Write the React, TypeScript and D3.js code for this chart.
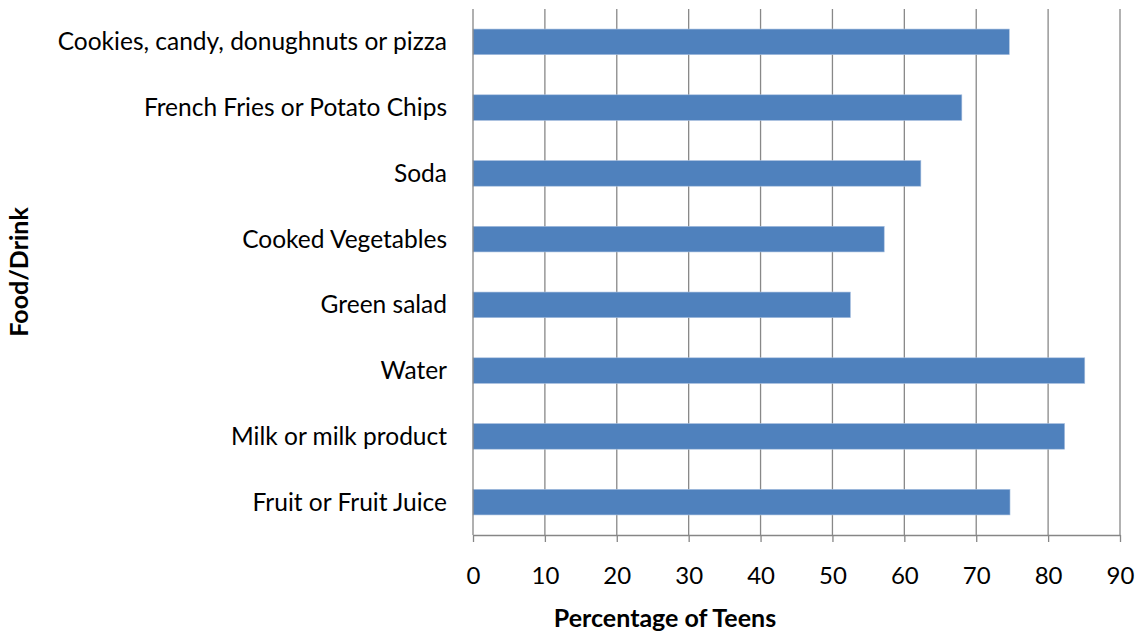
import React, { useEffect, useRef } from 'react';
import * as d3 from 'd3';

const categories = [
  'Cookies, candy, donughnuts or pizza',
  'French Fries or Potato Chips',
  'Soda',
  'Cooked Vegetables',
  'Green salad',
  'Water',
  'Milk or milk product',
  'Fruit or Fruit Juice',
];
const percentages = [74.6, 68.0, 62.3, 57.2, 52.5, 85.1, 82.3, 74.7];
const xTicks = [0, 10, 20, 30, 40, 50, 60, 70, 80, 90];

const WIDTH = 1139;
const HEIGHT = 632;
const FONT = 'Lato, "Open Sans", sans-serif';

export default function App() {
  const svgRef = useRef<SVGSVGElement>(null);

  useEffect(() => {
    if (!svgRef.current) return;
    const svg = d3.select(svgRef.current);
    svg.selectAll('*').remove();

    const margin = { top: 9, right: 19, bottom: 97, left: 473 };
    const plotW = WIDTH - margin.left - margin.right;
    const plotH = HEIGHT - margin.top - margin.bottom;

    const x = d3.scaleLinear().domain([0, 90]).range([margin.left, margin.left + plotW]);
    const y = d3.scaleBand()
      .domain(categories)
      .range([margin.top, margin.top + plotH])
      .paddingInner(0.61)
      .paddingOuter(0.305);

    // gridlines
    svg.append('g')
      .selectAll('line')
      .data(xTicks.slice(1))
      .join('line')
      .attr('x1', d => x(d))
      .attr('x2', d => x(d))
      .attr('y1', margin.top)
      .attr('y2', margin.top + plotH)
      .attr('stroke', '#888888')
      .attr('stroke-width', 1.3);

    // bars
    svg.append('g')
      .selectAll('rect')
      .data(categories)
      .join('rect')
      .attr('x', x(0))
      .attr('y', d => y(d) || 0)
      .attr('width', (d, i) => x(percentages[i]) - x(0))
      .attr('height', y.bandwidth())
      .attr('fill', '#4F81BD')
      .attr('stroke', '#a9c0df')
      .attr('stroke-width', 0.6);

    // left axis line
    svg.append('line')
      .attr('x1', x(0))
      .attr('x2', x(0))
      .attr('y1', margin.top)
      .attr('y2', margin.top + plotH)
      .attr('stroke', '#868686')
      .attr('stroke-width', 1.3);

    // bottom axis
    const xAxis = svg.append('g')
      .attr('transform', `translate(0,${margin.top + plotH})`)
      .call(d3.axisBottom(x).tickValues(xTicks).tickSize(7).tickPadding(25).tickSizeOuter(0));
    xAxis.select('.domain').attr('stroke', '#868686').attr('stroke-width', 1.3);
    xAxis.selectAll('.tick line').attr('stroke', '#868686').attr('stroke-width', 1.3);
    xAxis.selectAll('.tick text')
      .attr('fill', '#000')
      .style('font-family', FONT)
      .style('font-size', '24px');

    // category labels
    svg.append('g')
      .selectAll('text')
      .data(categories)
      .join('text')
      .attr('x', margin.left - 26)
      .attr('y', d => (y(d) || 0) + y.bandwidth() / 2)
      .attr('dy', '0.35em')
      .attr('text-anchor', 'end')
      .style('font-family', FONT)
      .style('font-size', '24.5px')
      .attr('fill', '#000')
      .text(d => d);

    // axis titles
    svg.append('text')
      .attr('x', 665)
      .attr('y', 627)
      .attr('text-anchor', 'middle')
      .style('font-family', FONT)
      .style('font-size', '25px')
      .style('font-weight', 'bold')
      .text('Percentage of Teens');

    svg.append('text')
      .attr('transform', `translate(28,${margin.top + plotH / 2}) rotate(-90)`)
      .attr('text-anchor', 'middle')
      .style('font-family', FONT)
      .style('font-size', '25px')
      .style('font-weight', 'bold')
      .text('Food/Drink');
  }, []);

  return (
    <svg
      ref={svgRef}
      width={WIDTH}
      height={HEIGHT}
      style={{ position: 'absolute', left: 0, top: 0, background: '#fff' }}
    />
  );
}
